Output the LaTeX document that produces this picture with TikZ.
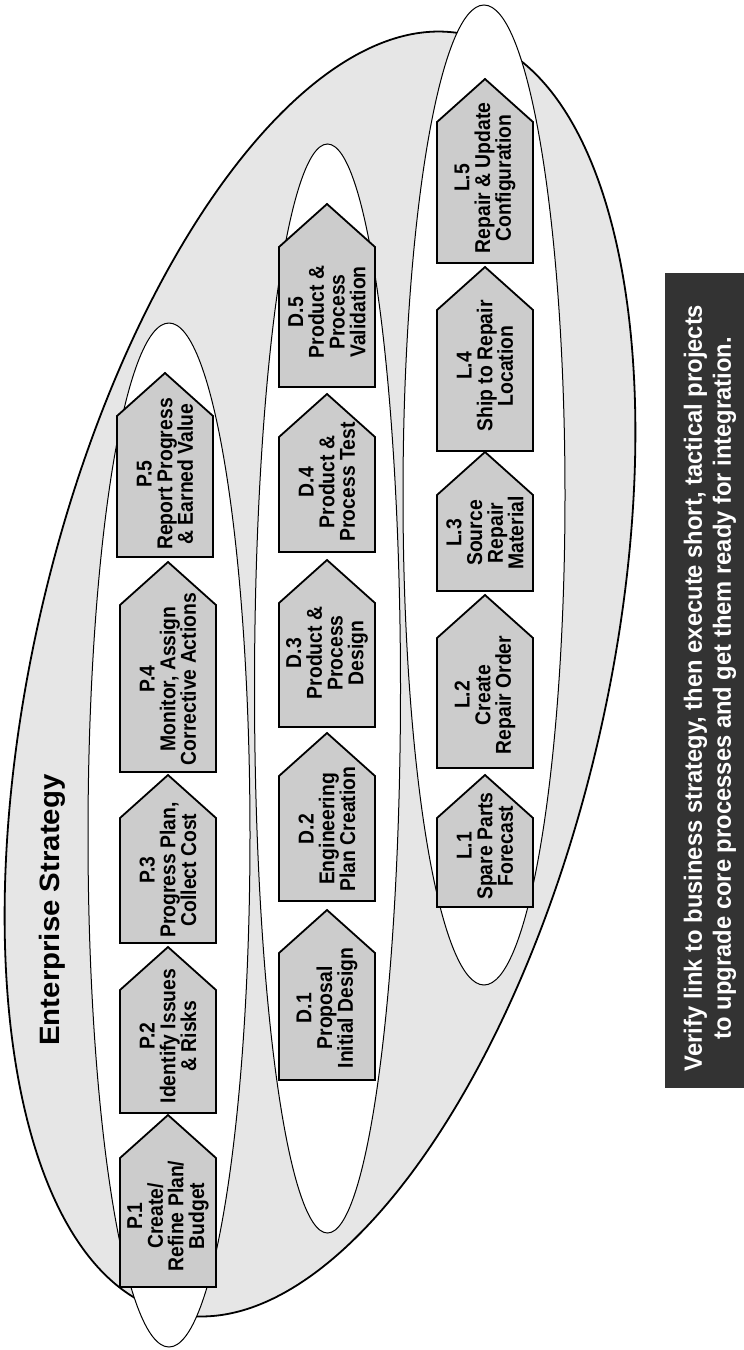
\documentclass[tikz,border=0pt]{standalone}
\usepackage{fontspec}
\setmainfont{Liberation Sans}
\newfontfamily\boxfont[FakeStretch=0.9]{Liberation Sans}
\newfontfamily\notefont[FakeStretch=0.95]{Liberation Sans}
\newfontfamily\headfont[FakeStretch=1.05]{Liberation Sans}
\usepackage{tikz}
\usetikzlibrary{calc}
\definecolor{ring}{HTML}{E6E6E6}
\definecolor{stagefill}{HTML}{CCCCCC}
\definecolor{notebg}{HTML}{333333}

% #1 name, #2 centre x, #3 tip y, #4 bottom y, #5 label y, #6 label
\newcommand{\procstage}[6]{%
  \draw[stage] (#2-48,#4) -- (#2-48,#3+43) -- (#2,#3) -- (#2+48,#3+43) -- (#2+48,#4) -- cycle;
  \node[stagetext] (#1) at (#2,#5) {#6};
}

\begin{document}
\begin{tikzpicture}[
    x=1pt, y=-1pt,
    ringline/.style={draw=black, line width=1.8pt, fill=ring},
    lane/.style={draw=black, line width=1pt, fill=white},
    stage/.style={draw=black, line width=1.8pt, fill=stagefill, line join=miter},
    stagetext/.style={rotate=90, align=center, inner sep=0pt,
                      font=\boxfont\bfseries\fontsize{21.5}{20.7}\selectfont},
    head/.style={rotate=90, inner sep=0pt,
                 font=\headfont\bfseries\fontsize{28}{32}\selectfont},
    note/.style={rotate=90, align=center, inner sep=0pt, text=white,
                 font=\notefont\bfseries\fontsize{25}{29}\selectfont},
]
\useasboundingbox (0,0) rectangle (744,1350);

% enterprise ring and the three lanes
\draw[ringline, rotate around={-13:(320,674)}] (320,674) ellipse [x radius=286, y radius=656];
\draw[lane] (169,835) ellipse [x radius=81, y radius=512];
\draw[lane] (327.5,688.5) ellipse [x radius=73, y radius=544.5];
\draw[lane] (484,495) ellipse [x radius=81, y radius=490];

\node[head] (ent) at (52,910) {Enterprise Strategy};

% program lane
\procstage{p1}{168}{1115}{1287}{1216}{P.1\\Create/\\Refine Plan/\\Budget}
\procstage{p2}{168}{947}{1113}{1036}{P.2\\Identify Issues\\\& Risks}
\procstage{p3}{168}{775}{943}{870}{P.3\\Progress Plan,\\Collect Cost}
\procstage{p4}{168}{562}{772}{679}{P.4\\Monitor, Assign\\Corrective Actions}
\procstage{p5}{165}{373}{557}{474}{P.5\\Report Progress\\\& Earned Value}

% development lane
\procstage{d1}{327}{910}{1080}{1008}{D.1\\Proposal\\Initial Design}
\procstage{d2}{327}{733}{901}{829}{D.2\\Engineering\\Plan Creation}
\procstage{d3}{327}{560}{727}{653}{D.3\\Product \&\\Process\\Design}
\procstage{d4}{327}{394}{552}{482}{D.4\\Product \&\\Process Test}
\procstage{d5}{327}{204}{387}{312}{D.5\\Product \&\\Process\\Validation}

% logistics lane
\procstage{l1}{485}{775}{907}{846}{L.1\\Spare Parts\\Forecast}
\procstage{l2}{485}{595}{768}{695}{L.2\\Create\\Repair Order}
\procstage{l3}{485}{452}{591}{533}{L.3\\Source\\Repair\\Material}
\procstage{l4}{485}{267}{451}{366}{L.4\\Ship to Repair\\Location}
\procstage{l5}{485}{79}{263}{178}{L.5\\Repair \& Update\\Configuration}

\fill[notebg] (665,273) rectangle (744,1088);
\node[note] (verify) at (710,688) {Verify link to business strategy, then execute short, tactical projects\\to upgrade core processes and get them ready for integration.};
\end{tikzpicture}
\end{document}
